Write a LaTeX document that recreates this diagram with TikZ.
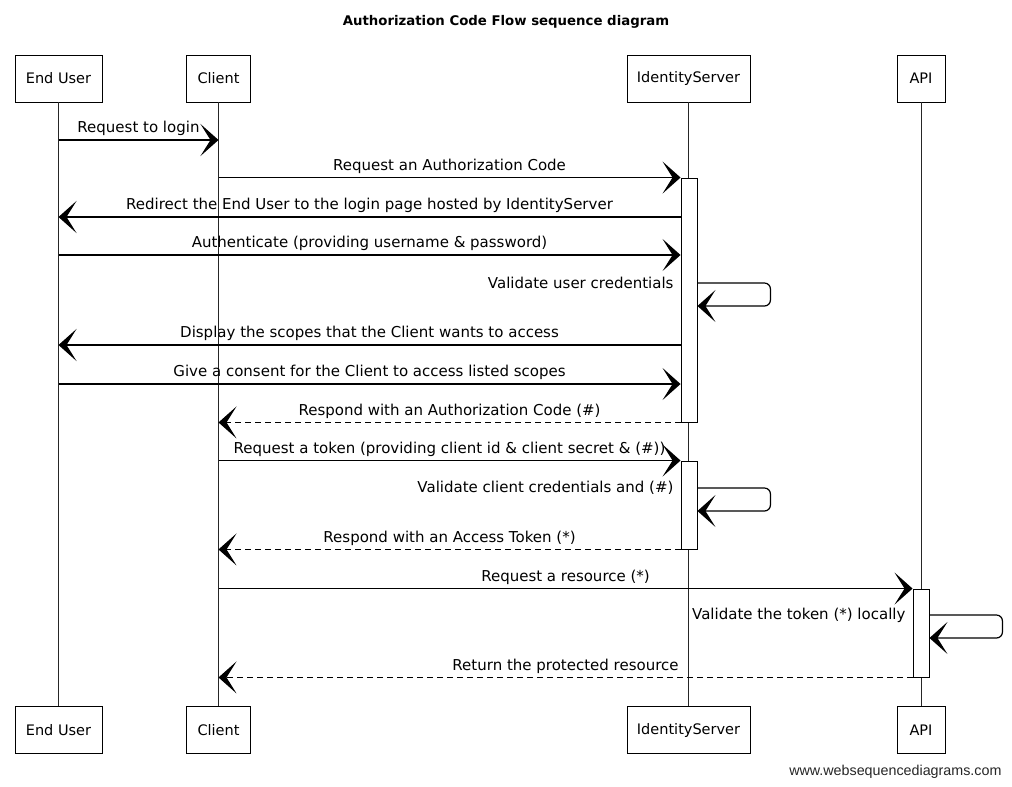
\documentclass[tikz,border=0pt]{standalone}
\usepackage{fontspec}
\setmainfont{DejaVu Sans}
\newfontfamily\wsdfont{Liberation Sans}
\usetikzlibrary{arrows.meta}
\begin{document}
\begin{tikzpicture}[x=1pt,y=-1pt,
  every node/.style={font=\fontsize{15}{17}\selectfont, text=black},
  part/.style={draw, line width=0.9pt, minimum height=47pt, inner sep=0pt, fill=white, font=\fontsize{14.5}{17}\selectfont},
  act/.style={draw, line width=0.9pt, fill=white, minimum width=16pt, inner sep=0pt},
  life/.style={line width=0.7pt, draw=black!85},
  msg/.style={line width=1.2pt, -{Stealth[length=18pt,width=32pt,inset=10pt]}},
  ret/.style={msg, dash pattern=on 6pt off 4pt},
  lbl/.style={midway, above=0pt},
  selflbl/.style={anchor=east},
  loopline/.style={msg, rounded corners=6pt}
]
\useasboundingbox (0,0) rectangle (1012,787);
\fill[white] (0,0) rectangle (1012,787);

% title
\node[font=\fontsize{13.3}{15}\selectfont\bfseries] (title) at (506,22) {Authorization Code Flow sequence diagram};

% participants top
\node[part, minimum width=87pt] (eu) at (58.5,78.5) {End User};
\node[part, minimum width=64pt] (cl) at (218.5,78.5) {Client};
\node[part, minimum width=123pt] (is) at (688.5,78.5) {IdentityServer};
\node[part, minimum width=48pt] (api) at (921,78.5) {API};
% participants bottom
\node[part, minimum width=87pt] (eub) at (58.5,730) {End User};
\node[part, minimum width=64pt] (clb) at (218.5,730) {Client};
\node[part, minimum width=123pt] (isb) at (688.5,730) {IdentityServer};
\node[part, minimum width=48pt] (apib) at (921,730) {API};

% lifelines
\draw[life] (eu) -- (eub);
\draw[life] (cl) -- (clb);
\draw[life] (is) -- (isb);
\draw[life] (api) -- (apib);

% activations
\node[act, minimum height=244pt] (a1) at (689,300) {};
\node[act, minimum height=88pt] (a2) at (689,505) {};
\node[act, minimum height=88pt] (a3) at (921,633) {};

% message rows
\coordinate (y1) at (0,140);
\coordinate (y3) at (0,217);
\coordinate (y4) at (0,255);
\coordinate (s1) at (0,283);
\coordinate (s1b) at (0,306);
\coordinate (y6) at (0,345);
\coordinate (y7) at (0,384);
\coordinate (s2) at (0,488);
\coordinate (s2b) at (0,511);
\coordinate (s3) at (0,615);
\coordinate (s3b) at (0,638);

\draw[msg] (eu |- y1) -- node[lbl] {Request to login} (cl |- y1);
\draw[msg] (cl |- a1.north) -- node[lbl] {Request an Authorization Code} (a1.north west);
\draw[msg] (a1.west |- y3) -- node[lbl] {Redirect the End User to the login page hosted by IdentityServer} (eu |- y3);
\draw[msg] (eu |- y4) -- node[lbl] {Authenticate (providing username \& password)} (a1.west |- y4);
\node[selflbl] (l1) at (677,283) {Validate user credentials};
\draw[loopline] (a1.east |- s1) -- ++(73,0) -- ++(0,23) -- (a1.east |- s1b);
\draw[msg] (a1.west |- y6) -- node[lbl] {Display the scopes that the Client wants to access} (eu |- y6);
\draw[msg] (eu |- y7) -- node[lbl] {Give a consent for the Client to access listed scopes} (a1.west |- y7);
\draw[ret] (a1.south west) -- node[lbl] {Respond with an Authorization Code (\#)} (cl |- a1.south);
\draw[msg] (cl |- a2.north) -- node[lbl] {Request a token (providing client id \& client secret \& (\#))} (a2.north west);
\node[selflbl] (l2) at (677,488) {Validate client credentials and (\#)};
\draw[loopline] (a2.east |- s2) -- ++(73,0) -- ++(0,23) -- (a2.east |- s2b);
\draw[ret] (a2.south west) -- node[lbl] {Respond with an Access Token (*)} (cl |- a2.south);
\draw[msg] (cl |- a3.north) -- node[lbl] {Request a resource (*)} (a3.north west);
\node[selflbl] (l3) at (909,615) {Validate the token (*) locally};
\draw[loopline] (a3.east |- s3) -- ++(73,0) -- ++(0,23) -- (a3.east |- s3b);
\draw[ret] (a3.south west) -- node[lbl] {Return the protected resource} (cl |- a3.south);

% watermark
\node[anchor=east, font=\wsdfont\fontsize{14.3}{16}\selectfont, text=black!85] (wm) at (1005,772) {www.websequencediagrams.com};
\end{tikzpicture}
\end{document}
